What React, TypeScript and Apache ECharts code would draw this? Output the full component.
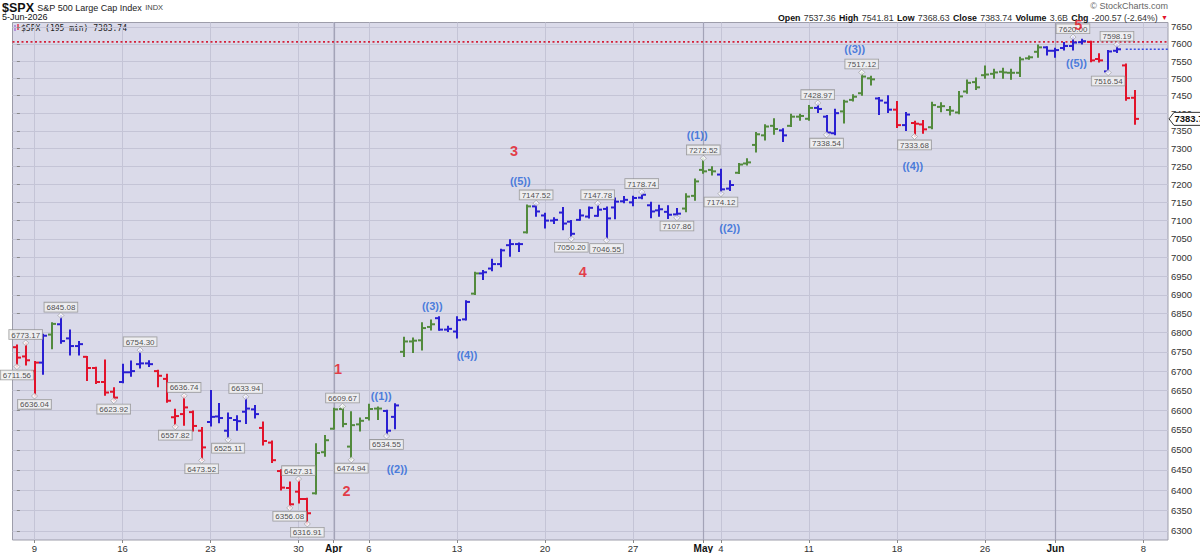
import React, { useEffect, useRef } from "react";
import * as echarts from "echarts";

// ---- Data (195-minute bars, two per session) ----
const sessionDays = [
  "Mar 6", "Mar 9", "Mar 10", "Mar 11", "Mar 12", "Mar 13", "Mar 16", "Mar 17", "Mar 18", "Mar 19", "Mar 20",
  "Mar 23", "Mar 24", "Mar 25", "Mar 26", "Mar 27", "Mar 30", "Mar 31", "Apr 1", "Apr 2",
  "Apr 6", "Apr 7", "Apr 8", "Apr 9", "Apr 10", "Apr 13", "Apr 14", "Apr 15", "Apr 16", "Apr 17",
  "Apr 20", "Apr 21", "Apr 22", "Apr 23", "Apr 24", "Apr 27", "Apr 28", "Apr 29", "Apr 30", "May 1",
  "May 4", "May 5", "May 6", "May 7", "May 8", "May 11", "May 12", "May 13", "May 14", "May 15",
  "May 18", "May 19", "May 20", "May 21", "May 22", "May 26", "May 27", "May 28", "May 29",
  "Jun 1", "Jun 2", "Jun 3", "Jun 4", "Jun 5",
];

const opens = [
  6762, 6738, 6700, 6722, 6795, 6822, 6785, 6765, 6737, 6708,
  6672, 6647, 6672, 6697, 6718, 6720, 6700, 6680, 6582, 6590,
  6595, 6548, 6570, 6584, 6548, 6575, 6596, 6602, 6555, 6518,
  6447, 6405, 6396, 6378, 6392, 6494, 6553, 6603, 6508, 6564,
  6580, 6604, 6598, 6583, 6750, 6777, 6780, 6815, 6838, 6808,
  6803, 6835, 6903, 6957, 6970, 6982, 7033, 7036, 7068, 7139,
  7114, 7100, 7122, 7097, 7102, 7111, 7113, 7132, 7136, 7153,
  7150, 7163, 7142, 7128, 7124, 7117, 7133, 7168, 7240, 7240,
  7227, 7188, 7232, 7258, 7310, 7337, 7364, 7351, 7364, 7390,
  7384, 7415, 7390, 7343, 7405, 7438, 7457, 7500, 7442, 7430,
  7410, 7366, 7372, 7368, 7360, 7418, 7409, 7402, 7462, 7489,
  7509, 7513, 7519, 7516, 7516, 7558, 7577, 7590, 7580, 7588,
  7594, 7605, 7606, 7556, 7520, 7580, 7537.36, 7444,
];
const highs = [
  6768, 6773.17, 6725, 6796, 6826, 6845.08, 6807, 6777, 6738, 6710,
  6729, 6657, 6718, 6726, 6754.30, 6727, 6702, 6692, 6602, 6636.74,
  6598, 6556, 6650, 6617, 6593, 6586, 6633.94, 6612, 6570, 6522,
  6450, 6420, 6427.31, 6380, 6515, 6536, 6605, 6609.67, 6596, 6580,
  6615, 6608, 6600, 6616, 6788, 6786, 6826, 6833, 6842, 6817,
  6842, 6884, 6960, 6965, 6995, 7022, 7048, 7039, 7143, 7147.52,
  7120, 7108, 7136, 7100, 7130, 7137, 7147.78, 7137, 7162, 7166,
  7167, 7178.74, 7150, 7142, 7141, 7133, 7174, 7215, 7272.52, 7249,
  7242, 7210, 7258, 7271, 7345, 7367, 7384, 7356, 7397, 7397,
  7422, 7428.97, 7393, 7411, 7437, 7453, 7517.12, 7506, 7445, 7450,
  7433, 7402, 7377, 7379, 7431, 7430, 7419, 7462, 7495, 7501,
  7536, 7526, 7529, 7526, 7561, 7565, 7597, 7592, 7587, 7604,
  7620.00, 7614, 7608, 7571, 7581, 7598.19, 7541.81, 7465,
];
const lows = [
  6711.56, 6716, 6636.04, 6692, 6758, 6772, 6742, 6742, 6676, 6668,
  6638, 6623.92, 6670, 6687, 6708, 6712, 6660, 6620, 6557.82, 6562,
  6547, 6473.52, 6560, 6568, 6525.11, 6549, 6566, 6580, 6512, 6468,
  6400, 6356.08, 6368, 6316.91, 6390, 6484, 6552, 6558, 6474.94, 6547,
  6575, 6576, 6534.55, 6553, 6738, 6748, 6755, 6807, 6806, 6803,
  6786, 6833, 6901, 6941, 6964, 6975, 7003, 7016, 7066, 7112,
  7080, 7092, 7075, 7050.20, 7101, 7107, 7112, 7046.55, 7105, 7149,
  7141, 7160, 7108, 7112, 7106, 7107.86, 7124, 7156, 7231, 7226,
  7174.12, 7183, 7230, 7254, 7290, 7324, 7340, 7320, 7362, 7380,
  7380, 7402, 7338.54, 7339, 7372, 7435, 7451, 7481, 7396, 7402,
  7359, 7351, 7333.68, 7343, 7356, 7404, 7395, 7398, 7457, 7468,
  7500, 7500, 7500, 7497, 7505, 7555, 7561, 7568, 7561, 7582,
  7582, 7600, 7548, 7547, 7516.54, 7575, 7437, 7368.63,
];
const closes = [
  6735, 6728, 6722, 6792, 6823, 6778, 6765, 6770, 6708, 6672,
  6645, 6632, 6697, 6700, 6720, 6718, 6688, 6624, 6585, 6607,
  6560, 6506, 6583, 6580, 6580, 6572, 6604, 6590, 6522, 6474,
  6406, 6365, 6378, 6343, 6492, 6524, 6602, 6565, 6562, 6573,
  6603, 6604, 6548, 6612, 6777, 6779, 6812, 6822, 6808, 6810,
  6833, 6881, 6957, 6960, 6982, 7019, 7036, 7036, 7139, 7125,
  7100, 7102, 7092, 7064, 7114, 7135, 7130, 7106, 7152, 7157,
  7162, 7171, 7125, 7131, 7116, 7119, 7166, 7208, 7236, 7236,
  7186, 7198, 7255, 7261, 7340, 7362, 7355, 7337, 7390, 7392,
  7415, 7412, 7345, 7400, 7433, 7447, 7505, 7497, 7436, 7410,
  7366, 7396, 7370, 7354, 7423, 7420, 7407, 7448, 7487, 7474,
  7511, 7517, 7517, 7516, 7555, 7561, 7590, 7580, 7582, 7594,
  7604, 7608, 7552, 7552, 7578, 7584.31, 7443, 7383.74,
];
// bar colour codes: r = red, g = green, b = blue
const barColors = [
  "r", "r", "r", "b", "g", "b", "b", "b", "r", "r",
  "r", "r", "b", "b", "b", "b", "r", "r", "r", "r",
  "r", "r", "b", "b", "b", "b", "b", "b", "r", "r",
  "r", "r", "r", "r", "g", "g", "g", "g", "g", "g",
  "g", "g", "b", "b", "g", "g", "g", "g", "b", "b",
  "b", "b", "g", "b", "b", "b", "b", "b", "g", "b",
  "b", "b", "b", "b", "b", "b", "b", "b", "b", "b",
  "b", "b", "b", "b", "b", "b", "g", "g", "g", "g",
  "b", "b", "g", "g", "g", "g", "g", "b", "g", "g",
  "g", "b", "b", "b", "g", "g", "g", "g", "b", "b",
  "r", "b", "r", "r", "g", "g", "g", "g", "g", "g",
  "g", "g", "g", "g", "g", "g", "g", "b", "b", "b",
  "b", "b", "r", "r", "b", "b", "r", "r",
];

const swingHighIdx = [1, 5, 14, 19, 26, 32, 37, 59, 66, 71, 78, 91, 96, 120, 125];
const swingHighVal = [6773.17, 6845.08, 6754.30, 6636.74, 6633.94, 6427.31, 6609.67, 7147.52, 7147.78, 7178.74, 7272.52, 7428.97, 7517.12, 7620.00, 7598.19];
const swingLowIdx = [0, 2, 11, 18, 21, 24, 31, 33, 38, 42, 63, 67, 75, 80, 92, 102, 124];
const swingLowVal = [6711.56, 6636.04, 6623.92, 6557.82, 6473.52, 6525.11, 6356.08, 6316.91, 6474.94, 6534.55, 7050.20, 7046.55, 7107.86, 7174.12, 7338.54, 7333.68, 7516.54];

const waveText = ["1", "2", "3", "4", "5", "((1))", "((2))", "((3))", "((4))", "((5))", "((1))", "((2))", "((3))", "((4))", "((5))"];
const waveIdx = [36.5, 37.45, 56.5, 64.3, 120.6, 41.4, 43.2, 47.2, 51.15, 57.2, 77.3, 81.0, 95.2, 101.8, 120.4];
const wavePrice = [6706, 6397, 7292, 6961, 7656, 6636, 6452, 6869, 6742, 7209, 7338, 7080, 7585, 7250, 7545];

const priceTicks = [6300, 6350, 6400, 6450, 6500, 6550, 6600, 6650, 6700, 6750, 6800, 6850, 6900, 6950, 7000, 7050, 7100, 7150, 7200, 7250, 7300, 7350, 7400, 7450, 7500, 7550, 7600, 7650];
const xTickIdx = [2, 12, 22, 32, 36, 40, 50, 60, 70, 78, 80, 90, 100, 110, 118, 128];
const xTickText = ["9", "16", "23", "30", "Apr", "6", "13", "20", "27", "May", "4", "11", "18", "26", "Jun", "8"];
const monthIdx = [36, 78, 118];

const resistanceLevel = 7606;
const prevClose = 7584.31;
const header = { open: "7537.36", high: "7541.81", low: "7368.63", close: "7383.74", volume: "3.6B", chg: "-200.57 (-2.64%)" };

const RED = "#e2132b";
const GREEN = "#528a3d";
const BLUE = "#2a1fd2";
const palette = [RED, GREEN, BLUE];
const FONT = "Liberation Sans, Arial, sans-serif";
const X_MAX = 130.8;

export default function App() {
  const ref = useRef<HTMLDivElement>(null);
  useEffect(() => {
    const chart = echarts.init(ref.current!, null, { renderer: "svg" });
    const L = Math.log;
    const ohlc = opens.map((o, i) => ({
      name: sessionDays[Math.floor(i / 2)],
      value: [i, L(o), L(highs[i]), L(lows[i]), L(closes[i]), "rgb".indexOf(barColors[i])],
    }));
    const last = closes.length - 1;

    const labelBox = {
      fontSize: 8, color: "#222", fontFamily: FONT,
      backgroundColor: "#f3f3f3", borderColor: "#8c8c8c", borderWidth: 0.8, padding: [1, 2, 0, 2],
    };

    const option: any = {
      animation: false,
      grid: {
        left: 12.5, top: 22.5, right: 32, bottom: 13,
        show: true, backgroundColor: "#dadae9", borderColor: "#9d9daa", borderWidth: 1,
      },
      xAxis: {
        type: "value", min: -0.5, max: X_MAX,
        axisLine: { show: false },
        axisTick: { show: true, customValues: xTickIdx, length: 3, lineStyle: { color: "#888" } },
        axisLabel: {
          customValues: xTickIdx,
          formatter: (v: number) => {
            const k = xTickIdx.indexOf(Math.round(v));
            const t = k >= 0 ? xTickText[k] : "";
            return /[A-Za-z]/.test(t) ? `{m|${t}}` : t;
          },
          fontSize: 9.5, color: "#333", margin: 3, fontFamily: FONT,
          rich: { m: { fontWeight: "bold", fontSize: 10, color: "#111", fontFamily: FONT } },
        },
        splitLine: { show: true, lineStyle: { color: "#c4c4d6", width: 1 } },
      },
      yAxis: {
        type: "value", position: "right", min: L(6278), max: L(7663),
        axisLine: { show: false },
        axisTick: { show: true, customValues: priceTicks.map(L), length: 3, lineStyle: { color: "#888" } },
        axisLabel: {
          customValues: priceTicks.map(L),
          formatter: (v: number) => String(Math.round(Math.exp(v))),
          fontSize: 9.5, color: "#333", margin: 3, fontFamily: FONT,
        },
        splitLine: { show: true, lineStyle: { color: "#c4c4d6", width: 1 } },
      },
      series: [
        {
          // reference lines: month separators, resistance line, previous close
          type: "custom", z: 1, silent: true,
          data: [[0, L(resistanceLevel), L(prevClose), last - 1]],
          renderItem: (params: any, api: any) => {
            const cs = params.coordSys;
            const yRes = api.coord([0, api.value(1)])[1];
            const pc = api.coord([api.value(3), api.value(2)]);
            const children: any[] = monthIdx.map((m) => {
              const x = Math.round(api.coord([m, api.value(1)])[0]) + 0.5;
              return { type: "line", shape: { x1: x, y1: cs.y, x2: x, y2: cs.y + cs.height }, style: { stroke: "#a3a3b7", lineWidth: 1.2 } };
            });
            children.push({
              type: "line", shape: { x1: cs.x, y1: yRes, x2: cs.x + cs.width, y2: yRes },
              style: { stroke: "#d4203a", lineWidth: 1.6, lineDash: [2, 2.5] },
            });
            children.push({
              type: "line", shape: { x1: pc[0], y1: pc[1], x2: cs.x + cs.width, y2: pc[1] },
              style: { stroke: "#3a4ee0", lineWidth: 1.4, lineDash: [2, 2] },
            });
            return { type: "group", children };
          },
        },
        {
          type: "custom", z: 3, data: ohlc, encode: { x: 0, y: [1, 2, 3, 4] },
          renderItem: (_params: any, api: any) => {
            const i = api.value(0);
            const top = api.coord([i, api.value(2)]);
            const bot = api.coord([i, api.value(3)]);
            const op = api.coord([i, api.value(1)]);
            const cl = api.coord([i, api.value(4)]);
            const col = palette[api.value(5)];
            const cx = Math.round(top[0]);
            const st = { stroke: col, lineWidth: 2 };
            return {
              type: "group",
              children: [
                { type: "line", shape: { x1: cx, y1: top[1] - 0.5, x2: cx, y2: bot[1] + 0.5 }, style: st },
                { type: "line", shape: { x1: cx - 4, y1: op[1], x2: cx, y2: op[1] }, style: st },
                { type: "line", shape: { x1: cx, y1: cl[1], x2: cx + 4, y2: cl[1] }, style: st },
              ],
            };
          },
        },
        {
          type: "scatter", z: 5, symbol: "diamond", symbolSize: 6,
          itemStyle: { color: "#ffffff", borderColor: "#8a8a8a", borderWidth: 0.7 },
          data: swingHighIdx.map((i, k) => [i, L(swingHighVal[k]), swingHighVal[k].toFixed(2)]),
          label: { show: true, position: "top", distance: 0.5, formatter: (p: any) => p.value[2], ...labelBox },
        },
        {
          type: "scatter", z: 5, symbol: "diamond", symbolSize: 6,
          itemStyle: { color: "#ffffff", borderColor: "#8a8a8a", borderWidth: 0.7 },
          data: swingLowIdx.map((i, k) => [i, L(swingLowVal[k]), swingLowVal[k].toFixed(2)]),
          label: { show: true, position: "bottom", distance: 0.5, formatter: (p: any) => p.value[2], ...labelBox },
        },
        {
          type: "scatter", z: 6, symbolSize: 0, silent: true,
          itemStyle: { color: "transparent" },
          data: waveText.map((t, k) => ({
            value: [waveIdx[k], L(wavePrice[k]), t],
            label: t.length === 1
              ? { color: "#e5121c", fontSize: 14.5 }
              : { color: "#2463d8", fontSize: 11 },
          })),
          label: {
            show: true, position: "inside",
            formatter: (p: any) => p.value[2],
            fontFamily: FONT, fontWeight: "bold",
          },
        },
        {
          type: "custom", z: 7, clip: false, silent: true,
          data: [[last, L(closes[last])]],
          renderItem: (params: any, api: any) => {
            const p = api.coord([api.value(0), api.value(1)]);
            const cs = params.coordSys;
            const x0 = cs.x + cs.width + 1;
            const y = p[1];
            return {
              type: "group",
              children: [
                {
                  type: "polygon",
                  shape: { points: [[x0, y], [x0 + 5, y - 6.5], [x0 + 44, y - 6.5], [x0 + 44, y + 6.5], [x0 + 5, y + 6.5]] },
                  style: { fill: "#ffffff", stroke: "#333", lineWidth: 1 },
                },
                {
                  type: "text", x: x0 + 5.5, y: y,
                  style: { text: closes[last].toFixed(2), fontSize: 9.5, fontWeight: "bold", fill: "#111", verticalAlign: "middle", align: "left", fontFamily: FONT },
                },
              ],
            };
          },
        },
      ],
      graphic: [
        {
          type: "text", left: 2, top: 1,
          style: {
            text: "{a|$SPX} {b|S&P 500 Large Cap Index} {c|INDX}",
            rich: {
              a: { fontSize: 12.5, fontWeight: "bold", fill: "#111", fontFamily: FONT },
              b: { fontSize: 9, fill: "#222", fontFamily: FONT },
              c: { fontSize: 7.5, fill: "#444", fontFamily: FONT },
            },
          },
        },
        { type: "text", left: 2, top: 12.5, style: { text: "5-Jun-2026", fontSize: 9, fill: "#111", fontFamily: FONT } },
        { type: "text", right: 32, top: 1, style: { text: "© StockCharts.com", fontSize: 9, fill: "#666", fontFamily: FONT } },
        {
          type: "text", right: 32, top: 11.5,
          style: {
            text: `{b|Open} {v|${header.open}} {b|High} {v|${header.high}} {b|Low} {v|${header.low}} {b|Close} {v|${header.close}} {b|Volume} {v|${header.volume}} {b|Chg} {v|${header.chg}} {r|▼}`,
            rich: {
              b: { fontSize: 8.8, fontWeight: "bold", fill: "#111", fontFamily: FONT },
              v: { fontSize: 8.8, fill: "#333", fontFamily: FONT },
              r: { fontSize: 7, fill: RED, fontFamily: FONT },
            },
          },
        },
        { type: "line", shape: { x1: 15, y1: 25, x2: 15, y2: 31 }, style: { stroke: "#9a5fd0", lineWidth: 1.2 } },
        { type: "line", shape: { x1: 18, y1: 24, x2: 18, y2: 30 }, style: { stroke: RED, lineWidth: 1.2 } },
        {
          type: "text", left: 21, top: 24.5,
          style: { text: `$SPX (195 min) ${header.close}`, fontSize: 8, fill: "#222", fontFamily: "DejaVu Sans Mono, Liberation Mono, monospace" },
        },
      ],
    };
    chart.setOption(option);
    return () => chart.dispose();
  }, []);
  return (
    <div
      ref={ref}
      style={{ position: "fixed", left: 0, top: 0, width: "1200px", height: "553px", background: "#ffffff" }}
    />
  );
}
